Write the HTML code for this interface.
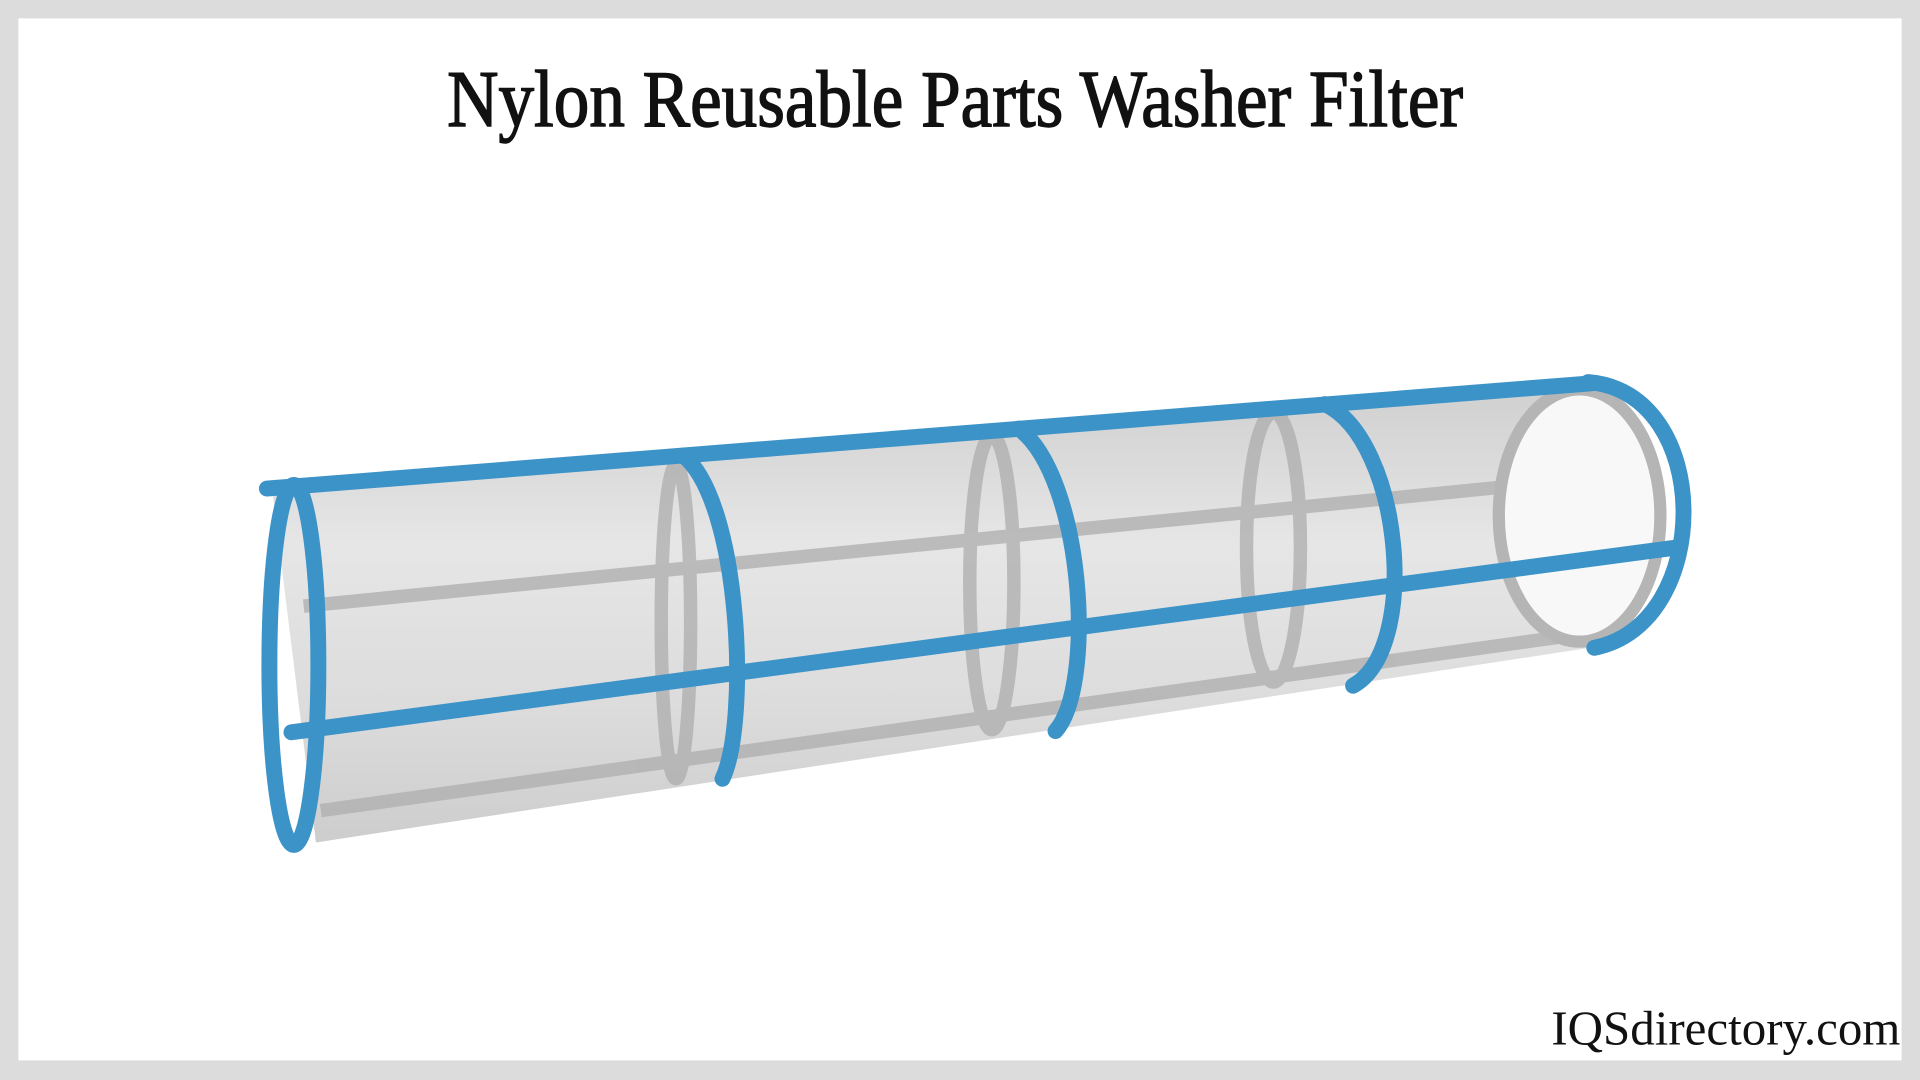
<!DOCTYPE html>
<html><head><meta charset="utf-8"><style>
html,body{margin:0;padding:0;background:#fff}
svg{display:block}
</style></head><body>
<svg width="1920" height="1080" viewBox="0 0 1568 882" xmlns="http://www.w3.org/2000/svg">
<defs>
<linearGradient id="mesh" x1="0" y1="0" x2="0" y2="1">
<stop offset="0" stop-color="#cfcfcf"/><stop offset="0.35" stop-color="#e6e6e6"/><stop offset="0.7" stop-color="#dcdcdc"/><stop offset="1" stop-color="#cdcdcd"/>
</linearGradient>
</defs>
<rect x="0" y="0" width="1568" height="882" fill="#dcdcdc"/>
<rect x="15" y="15" width="1538" height="851" fill="#ffffff"/>
<text x="780" y="103" text-anchor="middle" font-family="Liberation Serif, serif" font-size="66" fill="#111" stroke="#111" stroke-width="1.2" transform="translate(780 0) scale(0.88 1) translate(-780 0)">Nylon Reusable Parts Washer Filter</text>
<text x="1552" y="853" text-anchor="end" font-family="Liberation Serif, serif" font-size="40" fill="#111">IQSdirectory.com</text>

<polygon points="222,398 1300,312 1305,528 258,688" fill="url(#mesh)"/>
<g fill="none" stroke="#adadad" stroke-width="11" opacity="0.75">
<ellipse cx="552" cy="508" rx="12" ry="128"/>
<ellipse cx="810" cy="476" rx="18" ry="120"/>
<ellipse cx="1040" cy="447" rx="22" ry="110"/>
<line x1="248" y1="495" x2="1225" y2="398"/>
<line x1="262" y1="662" x2="1290" y2="518"/>
</g>
<ellipse cx="1290" cy="421" rx="66" ry="103" fill="#f8f8f8" stroke="#b5b5b5" stroke-width="10"/>
<g fill="none" stroke="#3c93c8" stroke-width="13" stroke-linecap="round">
<line x1="218" y1="399" x2="1300" y2="313"/>
<line x1="238" y1="598" x2="1370" y2="447"/>
<ellipse cx="240" cy="543" rx="20" ry="147"/>
<path d="M558,372 C605,410 612,590 590,636"/>
<path d="M832,350 C885,390 895,560 862,597"/>
<path d="M1082,330 C1145,360 1160,530 1105,560"/>
<path d="M1297,312 C1400,320 1400,510 1302,529"/>
</g>
</svg>
</body></html>
